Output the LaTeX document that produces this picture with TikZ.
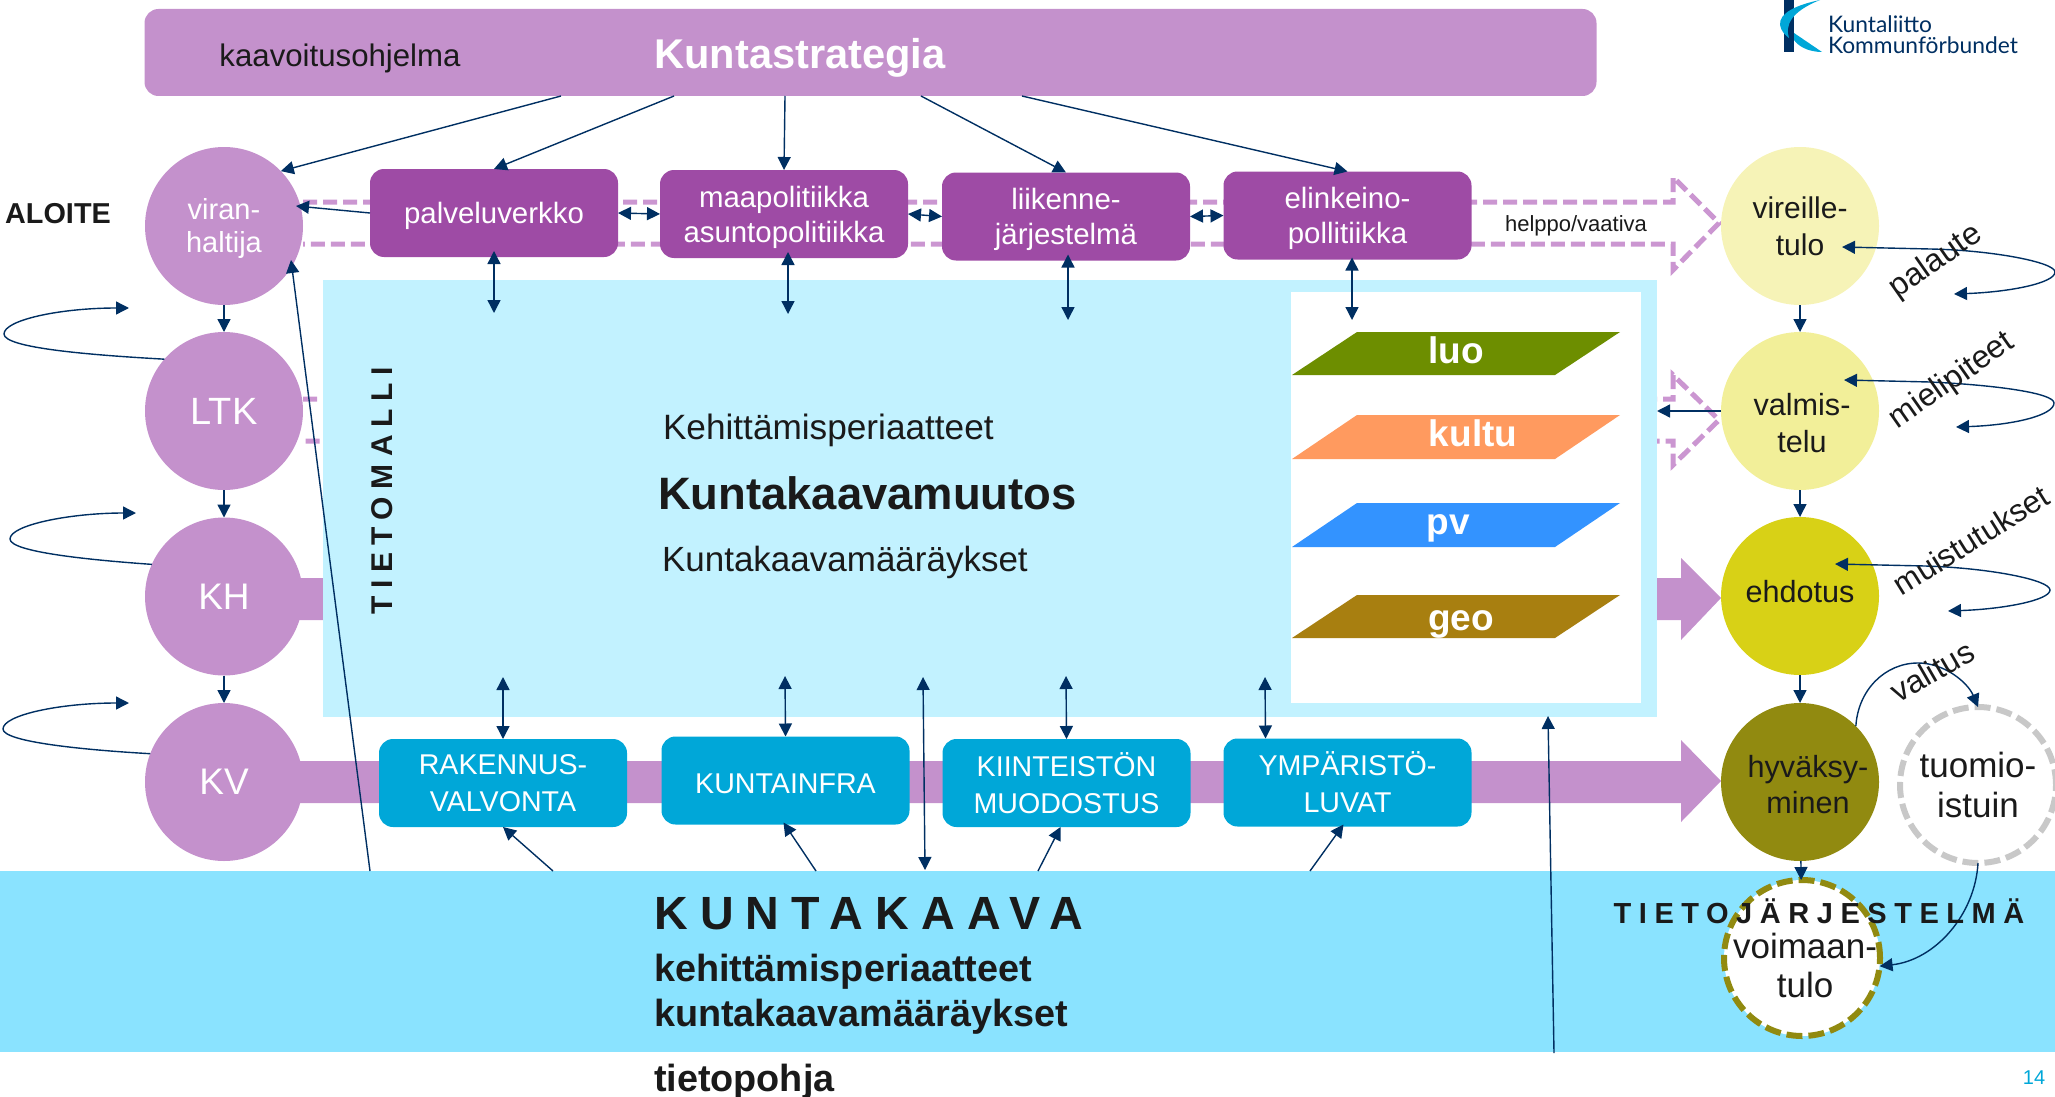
\documentclass[tikz,border=0pt]{standalone}
\usepackage{fontspec}
\setmainfont{Liberation Sans}
\newfontfamily\logofont{Lato}
\usetikzlibrary{arrows.meta}
\newcommand\fsz[2]{\fontsize{#1}{#2}\selectfont}
\newcommand\dn[1]{\rule{0pt}{\dimexpr 0.75em+#1\relax}}
\definecolor{lil}{HTML}{C491CC}
\definecolor{lildash}{HTML}{CB96D1}
\definecolor{dpur}{HTML}{9E4BA5}
\definecolor{bbox}{HTML}{00A7D8}
\definecolor{panel}{HTML}{C2F2FF}
\definecolor{band}{HTML}{8AE3FF}
\definecolor{navy}{HTML}{002F62}
\definecolor{ink}{HTML}{1A1A1A}
\definecolor{olive}{HTML}{918A10}
\tikzset{
  x=0.5pt,y=-0.5pt,
  every node/.style={inner sep=0pt,outer sep=0pt,align=center},
  purplebox/.style={fill=dpur,rounded corners=7pt,minimum width=124pt,minimum height=44pt,text=white,font=\fsz{14.7}{17.5}},
  bluebox/.style={fill=bbox,rounded corners=7pt,minimum width=124pt,minimum height=44pt,text=white,font=\fsz{14.3}{18.5}},
  leftcirc/.style={circle,fill=lil,minimum size=79pt,text=white},
  rightcirc/.style={circle,minimum size=79pt,text=ink},
  dashcirc/.style={circle,fill=white,minimum size=78pt,line width=3pt,dash pattern=on 8pt off 3pt,text=ink},
  thinarrow/.style={draw=navy,line width=0.7pt,-{Triangle[length=6.5pt,width=6.5pt]}},
  dblarrow/.style={draw=navy,line width=0.7pt,{Triangle[length=6.5pt,width=6.5pt]}-{Triangle[length=6.5pt,width=6.5pt]}},
  dashblock/.style={draw=lildash,line width=2.5pt,dash pattern=on 7pt off 3pt},
  para/.style={text=white,font=\fsz{18.5}{20}\bfseries},
  plain/.style={text=ink},
}
\begin{document}
\begin{tikzpicture}
\useasboundingbox (0,0) rectangle (2055,1097);
% backgrounds
\fill[band] (0,871) rectangle (2055,1052);
% dashed block arrows
\draw[dashblock] (303,202) -- (1673,202) -- (1673,177) -- (1719,223) -- (1673,270) -- (1673,244) -- (303,244);
\draw[dashblock] (303,399) -- (1673,399) -- (1673,375) -- (1719,420) -- (1673,465) -- (1673,441) -- (303,441);
% solid block arrows
\fill[lil] (224,578) -- (1681,578) -- (1681,558) -- (1721,598) -- (1681,640) -- (1681,620) -- (224,620) -- cycle;
\fill[lil] (224,761) -- (1681,761) -- (1681,740) -- (1721,781) -- (1681,822) -- (1681,803) -- (224,803) -- cycle;
% panel
\fill[panel] (323,280) rectangle (1657,717);
\fill[white] (1291,292) rectangle (1641,703);
% parallelograms
\fill[fill={rgb,255:red,109;green,142;blue,0}] (1292,375) -- (1357,332) -- (1620,332) -- (1555,375) -- cycle;
\fill[fill={rgb,255:red,255;green,154;blue,95}] (1292,459) -- (1357,415) -- (1620,415) -- (1555,459) -- cycle;
\fill[fill={rgb,255:red,51;green,147;blue,255}] (1292,547) -- (1357,503) -- (1620,503) -- (1555,547) -- cycle;
\fill[fill={rgb,255:red,168;green,127;blue,16}] (1292,638) -- (1357,595) -- (1620,595) -- (1555,638) -- cycle;
\node[para] (luo) at (1456,350) {luo};
\node[para] (kultu) at (1473,433) {kultu};
\node[para] (pv) at (1448,528) {pv};
\node[para] (geo) at (1461,624) {geo};
% top bar
\node[fill=lil,rounded corners=7pt,minimum width=726pt,minimum height=43.5pt] (bar) at (870.5,52.5) {};
\node[plain,font=\fsz{15.6}{18}] (kaav) at (340,58) {kaavoitusohjelma};
\node[text=white,font=\fsz{20.8}{24}\bfseries] (strat) at (800,58) {Kuntastrategia};
% purple boxes
\node[purplebox] (pal) at (494,213) {\dn{3pt}palveluverkko};
\node[purplebox] (maa) at (784,214) {\dn{3pt}maapolitiikka\\asuntopolitiikka};
\node[purplebox] (lii) at (1066,216.5) {\dn{3pt}liikenne-\\järjestelmä};
\node[purplebox] (eli) at (1347.5,215.5) {\dn{3pt}elinkeino-\\pollitiikka};
% blue boxes
\node[bluebox] (rak) at (503,783) {RAKENNUS-\\VALVONTA};
\node[bluebox] (inf) at (785.5,780.5) {\dn{2pt}KUNTAINFRA};
\node[bluebox] (kii) at (1066.5,783) {KIINTEISTÖN\\MUODOSTUS};
\node[bluebox] (ymp) at (1347.5,782.5) {YMPÄRISTÖ-\\LUVAT};
% left circles
\node[leftcirc,font=\fsz{14.5}{16.8}] (viran) at (224,226) {\dn{2pt}viran-\\haltija};
\node[leftcirc,font=\fsz{19}{22}] (ltk) at (224,411) {LTK};
\node[leftcirc,font=\fsz{18.5}{22}] (kh) at (224,596.5) {KH};
\node[leftcirc,font=\fsz{18.5}{22}] (kv) at (224,782) {KV};
% right circles
\node[rightcirc,fill={rgb,255:red,246;green,243;blue,183},font=\fsz{15}{18.5}] (vir) at (1800,226) {vireille-\\tulo};
\node[rightcirc,fill={rgb,255:red,242;green,239;blue,153}] (val) at (1800,411) {};
\node[rightcirc,fill={rgb,255:red,216;green,209;blue,22},font=\fsz{15.3}{18}] (ehd) at (1800,596) {\raisebox{5pt}{ehdotus}};
\node[rightcirc,fill=olive,font=\fsz{15.3}{18}] (hyv) at (1800,782) {\hspace*{8pt}\dn{2pt}hyväksy-\\\hspace*{8pt}minen};
\node[dashcirc,draw={rgb,255:red,200;green,200;blue,200},font=\fsz{17.5}{20}] (tuo) at (1978,785) {tuomio-\\istuin};
\node[dashcirc,draw=olive] (voi) at (1802,958) {};
\node[plain,font=\fsz{15.3}{18.5}] (valt) at (1802,423.5) {valmis-\\telu};
\node[plain,font=\fsz{17.5}{19.5}] (voit) at (1805,965) {voimaan-\\tulo};
% free-end coordinates
\coordinate (t1) at (561,96);
\coordinate (t2) at (674,96);
\coordinate (t3) at (785,96);
\coordinate (t4) at (921,96);
\coordinate (t5) at (1022,96);
\coordinate (vtip) at (296,206);
\coordinate (vtip2) at (291,260);
\coordinate (lup) at (370,871);
\coordinate (p1) at (494,313);
\coordinate (p2) at (788,314);
\coordinate (p3) at (1068,320);
\coordinate (p4) at (1352,320);
\coordinate (q1) at (503,677);
\coordinate (q2) at (785,676);
\coordinate (q3a) at (923,677);
\coordinate (q3b) at (925,870);
\coordinate (q4) at (1066,676);
\coordinate (q5) at (1265,677);
\coordinate (b1) at (553,871);
\coordinate (b2) at (816,871);
\coordinate (b3) at (1038,871);
\coordinate (b4) at (1310,871);
\coordinate (u1) at (1554,1053);
\coordinate (u2) at (1548,716);
\coordinate (pe) at (1657,411);
% connectors from the strategy bar
\draw[thinarrow] (t1) -- (viran.44);
\draw[thinarrow] (t2) -- (pal.north);
\draw[thinarrow] (t3) -- (maa.north);
\draw[thinarrow] (t4) -- (lii.north);
\draw[thinarrow] (t5) -- (eli.north);
% between boxes
\draw[dblarrow] (pal.east) -- (maa.west);
\draw[dblarrow] (maa.east) -- (lii.west);
\draw[dblarrow] (lii.east) -- (eli.west);
\draw[thinarrow] (pal.west) -- (vtip);
\draw[thinarrow] (lup) -- (vtip2);
% vertical to panel
\draw[dblarrow] ([yshift=3pt]pal.south) -- (p1);
\draw[dblarrow] ([xshift=2pt,yshift=3pt]maa.south) -- (p2);
\draw[dblarrow] ([xshift=1pt,yshift=3pt]lii.south) -- (p3);
\draw[dblarrow] ([xshift=2.25pt,yshift=1pt]eli.south) -- (p4);
\draw[dblarrow] (rak.north) -- (q1);
\draw[dblarrow] (inf.north) -- (q2);
\draw[dblarrow] (q3a) -- (q3b);
\draw[dblarrow] (kii.north) -- (q4);
\draw[dblarrow] ([xshift=-41pt]ymp.north) -- (q5);
% from lower band
\draw[thinarrow] (b1) -- (rak.south);
\draw[thinarrow] (b2) -- ([xshift=-1pt,yshift=1pt]inf.south);
\draw[thinarrow] (b3) -- ([xshift=-3pt]kii.south);
\draw[thinarrow] (b4) -- ([xshift=-2pt,yshift=1pt]ymp.south);
\draw[thinarrow] (u1) -- (u2);
% process chains
\draw[thinarrow] (viran) -- (ltk);
\draw[thinarrow] (ltk) -- (kh);
\draw[thinarrow] (kh) -- (kv);
\draw[thinarrow] (vir) -- (val);
\draw[thinarrow] (val) -- (ehd);
\draw[thinarrow] (ehd) -- (hyv);
\draw[thinarrow] (hyv) -- (voi);
\draw[thinarrow] (val.west) -- (pe);
% left loops
\coordinate (l1) at (129,308);
\coordinate (l2) at (136,513);
\coordinate (l3) at (129,703);
\draw[thinarrow] (ltk.139) .. controls (90,355) and (4,348) .. (4,334) .. controls (4,320) and (60,308) .. (l1);
\draw[thinarrow] (kh.156) .. controls (90,560) and (10,552) .. (10,539) .. controls (10,525) and (70,513) .. (l2);
\draw[thinarrow] (kv.159) .. controls (85,750) and (3,742) .. (3,729) .. controls (3,715) and (60,703) .. (l3);
% right loops
\coordinate (r1a) at (1842,247);
\coordinate (r1b) at (1954,294);
\coordinate (r2a) at (1844,380);
\coordinate (r2b) at (1956,427);
\coordinate (r3a) at (1835,564);
\coordinate (r3b) at (1948,611);
\draw[dblarrow] (r1a) -- (1930,249) .. controls (1990,250) and (2055,262) .. (2055,272) .. controls (2055,283) and (2010,292) .. (r1b);
\draw[dblarrow] (r2a) -- (1930,382) .. controls (1995,385) and (2054,393) .. (2054,403) .. controls (2054,415) and (2015,425) .. (r2b);
\draw[dblarrow] (r3a) -- (1925,566) .. controls (1990,568) and (2050,580) .. (2050,590) .. controls (2050,600) and (2005,609) .. (r3b);
% appeal
\draw[thinarrow] (hyv.45) .. controls (1858,690) and (1885,663) .. (1918,663) .. controls (1945,663) and (1968,683) .. (tuo.north);
\draw[thinarrow] (tuo.south) .. controls (1975,915) and (1935,960) .. (voi.-6);
% rotated loop labels
\node[plain,rotate=35,font=\fsz{16}{18}] (pala) at (1936,262) {palaute};
\node[plain,rotate=35,font=\fsz{16}{18}] (miel) at (1952,381) {mielipiteet};
\node[plain,rotate=32,font=\fsz{15.8}{18}] (muis) at (1971,540) {muistutukset};
\node[plain,rotate=30,font=\fsz{16}{18}] (vali) at (1932,671) {valitus};
% labels
\node[plain,font=\fsz{14.4}{17}\bfseries] (aloite) at (58,214) {ALOITE};
\node[plain,font=\fsz{11}{13}] (help) at (1576,226) {helppo/vaativa};
\node[plain,anchor=west,font=\fsz{17.6}{20}] (kp) at (663,430) {Kehittämisperiaatteet};
\node[plain,anchor=west,font=\fsz{22.7}{27}\bfseries] (km) at (658,493) {Kuntakaavamuutos};
\node[plain,anchor=west,font=\fsz{17.5}{20}] (kma) at (662,562) {Kuntakaavamääräykset};
\node[plain,rotate=90,font=\fsz{15}{18}\bfseries\addfontfeatures{LetterSpace=25}] (tm) at (382,491) {TIETOMALLI};
\node[plain,anchor=west,font=\fsz{23.3}{27}\bfseries\addfontfeatures{LetterSpace=26.5}] (ka) at (654,914) {KUNTAKAAVA};
\node[plain,anchor=west,font=\fsz{18.9}{22}\bfseries] (kpb) at (654,972) {kehittämisperiaatteet};
\node[plain,anchor=west,font=\fsz{18.9}{22}\bfseries] (kmb) at (654,1017) {kuntakaavamääräykset};
\node[plain,anchor=west,font=\fsz{18.9}{22}\bfseries] (tp) at (654,1082) {tietopohja};
\node[plain,font=\fsz{14.5}{17}\bfseries\addfontfeatures{LetterSpace=26}] (tj) at (1819,911) {TIETOJÄRJESTELMÄ};
\node[text=bbox,font=\fsz{10}{12}] (pg) at (2034,1078) {14};
% logo
\fill[navy] (1784,0) rectangle (1794,52);
\fill[bbox] (1820,0) .. controls (1796,5) and (1779,13) .. (1780,25) .. controls (1781,31) and (1785,35) .. (1789,38) .. controls (1785,26) and (1790,12) .. (1820,0) -- cycle;
\fill[bbox] (1794,33) -- (1822,52) .. controls (1808,52) and (1798,46) .. (1794,40) -- cycle;
\node[text=navy,anchor=west,font=\fsz{11.4}{14}\logofont] (lk1) at (1828,24) {Kuntaliitto};
\node[text=navy,anchor=west,font=\fsz{11.4}{14}\logofont] (lk2) at (1828,45) {Kommunförbundet};
\end{tikzpicture}
\end{document}
